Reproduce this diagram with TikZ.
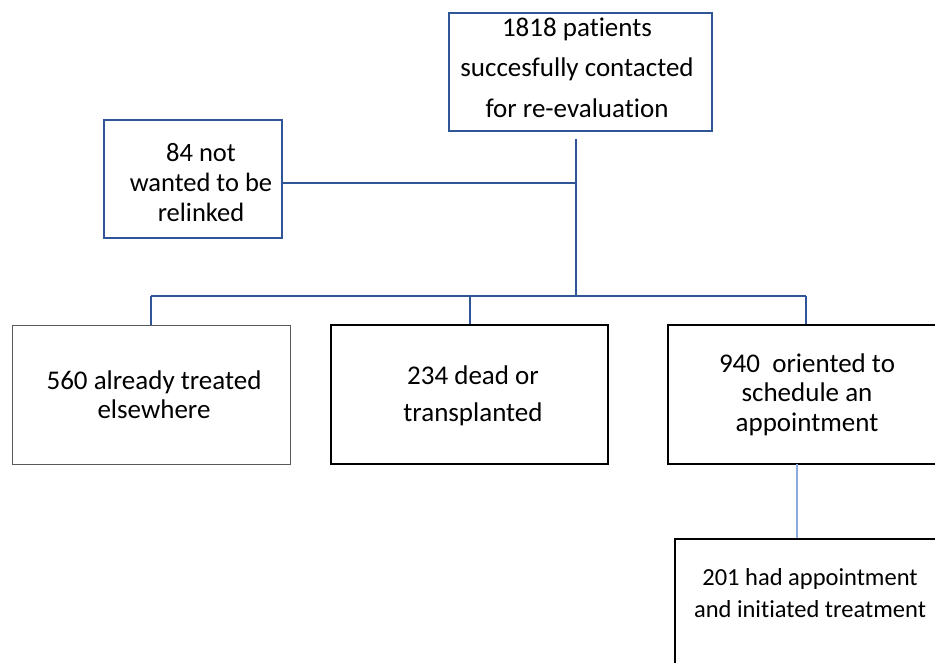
\documentclass[tikz,border=0pt]{standalone}
\usepackage{fontspec}
\setmainfont{Carlito}[Ligatures=NoCommon]
\usetikzlibrary{calc}
\definecolor{boxblue}{RGB}{47,85,151}
\definecolor{lineblue}{RGB}{143,170,220}
\definecolor{boxgray}{RGB}{89,89,89}
\tikzset{
  bluebox/.style={draw=boxblue, line width=2pt, inner sep=0pt, align=center, fill=white},
  graybox/.style={draw=boxgray, line width=1pt, inner sep=0pt, align=center, minimum width=278pt, minimum height=139pt},
  blackbox/.style={draw=black, line width=2.5pt, inner sep=0pt, align=center, minimum height=139pt},
  conn/.style={draw=boxblue, line width=2pt},
  lconn/.style={draw=lineblue, line width=1.5pt},
  txt/.style={inner sep=0pt, align=center}
}
\begin{document}
\begin{tikzpicture}[x=1pt,y=-1pt]
\useasboundingbox[fill=white] (0,0) rectangle (935,662);
% boxes
\node[bluebox, minimum width=263pt, minimum height=118pt] (top) at (580.5,72) {};
\node[txt, font=\fontsize{27}{40.5}\selectfont] (toptxt) at (577,67.5) {1818 patients\\succesfully contacted\\for re-evaluation};
\node[bluebox, minimum width=178pt, minimum height=118pt] (left) at (193,179) {};
\node[txt, font=\fontsize{26.5}{30}\selectfont] (lefttxt) at (201,183) {84 not\\wanted to be\\relinked};
\node[graybox] (A) at (151,394.5) {};
\node[txt, font=\fontsize{27}{29}\selectfont] (Atxt) at (154,394.5) {560 already treated\\elsewhere};
\node[blackbox, minimum width=277pt] (B) at (469.5,394.5) {};
\node[txt, font=\fontsize{27}{37}\selectfont] (Btxt) at (473,395.5) {234 dead or\\transplanted};
\node[blackbox, minimum width=276pt] (C) at (806,394.5) {};
\node[txt, font=\fontsize{27}{29.5}\selectfont] (Ctxt) at (807,394.5) {940\ \ oriented to\\schedule an\\appointment};
\node[blackbox, minimum width=270pt, minimum height=161pt] (D) at (810,619.5) {};
\node[txt, font=\fontsize{24.5}{32}\selectfont] (Dtxt) at (810,593) {201 had appointment\\and initiated treatment};
% connectors
\coordinate (t0) at (576,139);
\coordinate (bus) at (576,296);
\coordinate (j2) at (576,183);
\draw[conn] (t0) -- (bus);
\draw[conn] (j2) -- (j2 -| left.east);
\draw[conn] (A.north |- bus) -- (C.north |- bus);
\draw[conn] (A.north |- bus) -- (A.north);
\draw[conn] (B.north |- bus) -- (B.north);
\draw[conn] (C.north |- bus) -- (C.north);
\coordinate (cd) at (797,464);
\draw[lconn] (cd) -- (cd |- D.north);
\end{tikzpicture}
\end{document}
